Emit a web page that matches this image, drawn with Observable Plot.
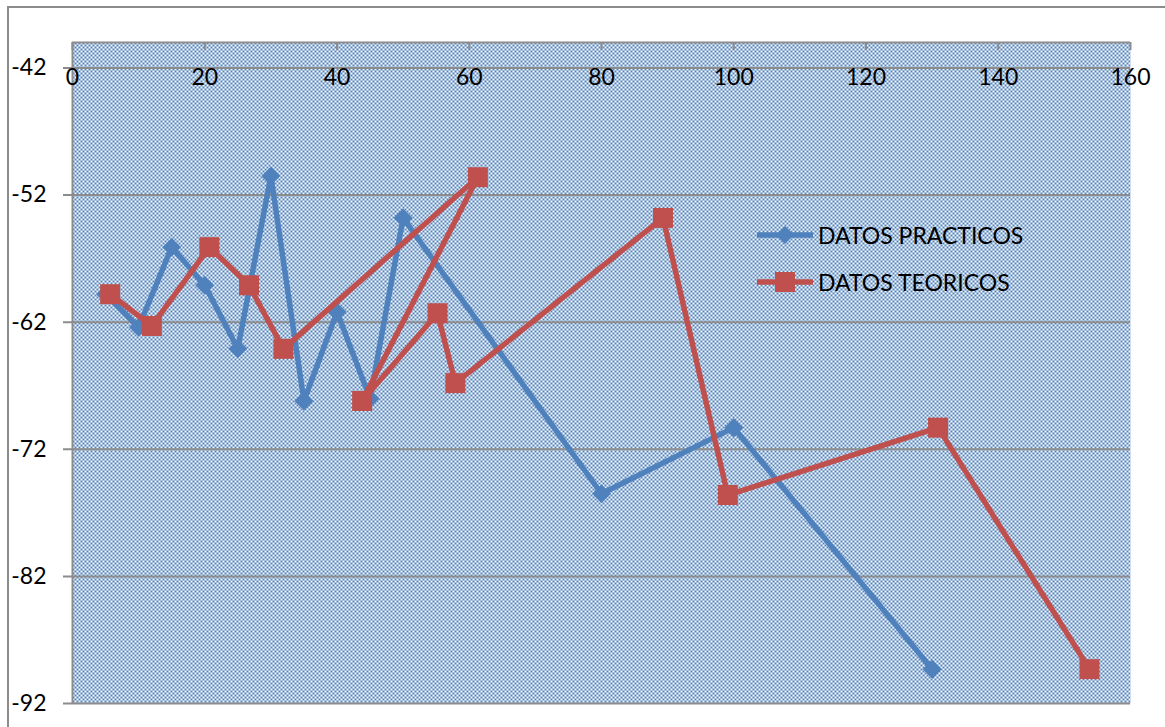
<!DOCTYPE html>
<html>
<head>
<meta charset="utf-8">
<script src="https://cdn.jsdelivr.net/npm/d3@7"></script>
<script src="https://cdn.jsdelivr.net/npm/@observablehq/plot@0.6"></script>
<style>
  html, body { margin: 0; padding: 0; background: #fff; overflow: hidden; }
  #wrap { position: relative; width: 1165px; height: 727px; }
  #border { position: absolute; left: 7px; top: 6px; width: 2000px; height: 2000px;
            border: 2px solid #8c8c8c; pointer-events: none; box-sizing: border-box; }
  #legend { position: absolute; left: 755px; top: 211px; font-family: Lato, "Open Sans", sans-serif;
            font-size: 23px; color: #000; }
  .row { display: flex; align-items: center; height: 47px; }
  .row svg { margin-right: 3px; }
</style>
</head>
<body>
<div id="wrap"><div id="border"></div><div id="legend"></div></div>
<script>
// ---- data ----
const seriesNames = ["DATOS PRACTICOS", "DATOS TEORICOS"];
const practicosX = [5, 10, 15, 20, 25, 30, 35, 40, 45, 50, 80, 100, 130];
const practicosY = [-59.8, -62.4, -56.1, -59.1, -64.1, -50.5, -68.2, -61.2, -68.0, -53.8, -75.5, -70.3, -89.3];
const teoricosX = [5.7, 12, 20.7, 26.7, 31.9, 61.3, 43.8, 55.2, 57.9, 89.3, 99.1, 130.9, 153.8];
const teoricosY = [-59.8, -62.3, -56.1, -59.1, -64.1, -50.6, -68.2, -61.3, -66.8, -53.8, -75.6, -70.3, -89.3];
const xTicks = [0, 20, 40, 60, 80, 100, 120, 140, 160];
const yTicks = [-42, -52, -62, -72, -82, -92];
const xDomain = [0, 160];
const yDomain = [-92, -40];
const xAxisCrossesAt = -42;

const practicos = practicosX.map((x, i) => ({x, y: practicosY[i]}));
const teoricos = teoricosX.map((x, i) => ({x, y: teoricosY[i]}));

const blue = "#4F81BD", red = "#C0504D", gray = "#8c8c8c";
const W = 1165, H = 727, mL = 72, mR = 35, mT = 42, mB = 24;
const plotH = H - mT - mB;

const diamond = {
  draw(ctx, size) {
    const r = Math.sqrt(size / 2);
    ctx.moveTo(0, -r); ctx.lineTo(r, 0); ctx.lineTo(0, r); ctx.lineTo(-r, 0); ctx.closePath();
  }
};

const svg = Plot.plot({
  width: W, height: H,
  marginLeft: mL, marginRight: mR, marginTop: mT, marginBottom: mB,
  x: {domain: xDomain, axis: null},
  y: {domain: yDomain, axis: null},
  style: {fontFamily: "Lato, 'Open Sans', sans-serif", fontSize: "23px", color: "#000", background: "#fff", overflow: "visible"},
  marks: [
    Plot.frame({fill: "url(#chk)", stroke: "none"}),
    Plot.ruleY(yTicks, {y: d => d, stroke: gray, strokeWidth: 2, insetLeft: -9}),
    Plot.ruleY([yDomain[1]], {y: d => d, stroke: gray, strokeWidth: 2}),
    Plot.ruleX([xDomain[0]], {x: d => d, stroke: gray, strokeWidth: 2}),
    Plot.ruleX(xTicks, {x: d => d, stroke: gray, strokeWidth: 2, insetBottom: plotH - 8}),
    Plot.axisY({ticks: yTicks, tickSize: 0, tickPadding: 26, label: null, fontSize: 23, tickFormat: d => String(d).replace("−", "-")}),
    Plot.text(xTicks, {x: d => d, y: () => xAxisCrossesAt, dy: 10, text: d => String(d), fontSize: 23, fill: "#000"}),
    Plot.line(practicos, {x: "x", y: "y", stroke: blue, strokeWidth: 5.5, strokeLinejoin: "round"}),
    Plot.dot(practicos, {x: "x", y: "y", symbol: diamond, r: 7.6, fill: blue, stroke: "none"}),
    Plot.line(teoricos, {x: "x", y: "y", stroke: red, strokeWidth: 5.5, strokeLinejoin: "round"}),
    Plot.dot(teoricos, {x: "x", y: "y", symbol: "square", r: 11.3, fill: red, stroke: "none"})
  ]
});

d3.select(svg).insert("defs", ":first-child").html(
  `<pattern id="chk" width="4" height="4" patternUnits="userSpaceOnUse">
     <rect width="4" height="4" fill="#fff"/>
     <rect width="2" height="2" fill="${blue}"/>
     <rect x="2" y="2" width="2" height="2" fill="${blue}"/>
   </pattern>`);
svg.style.position = "absolute";
svg.style.left = "0";
svg.style.top = "0";
document.getElementById("wrap").insertBefore(svg, document.getElementById("border"));

// legend
const legend = d3.select("#legend");
const sw = [{c: blue, s: "diamond"}, {c: red, s: "square"}];
seriesNames.forEach((name, i) => {
  const row = legend.append("div").attr("class", "row");
  const s = row.append("svg").attr("width", 60).attr("height", 24);
  s.append("line").attr("x1", 2).attr("x2", 58).attr("y1", 12).attr("y2", 12)
    .attr("stroke", sw[i].c).attr("stroke-width", 5.5);
  if (sw[i].s === "diamond") {
    s.append("path").attr("d", "M30,3L39,12L30,21L21,12Z").attr("fill", sw[i].c);
  } else {
    s.append("rect").attr("x", 20).attr("y", 2).attr("width", 20).attr("height", 20).attr("fill", sw[i].c);
  }
  row.append("span").text(name);
});
</script>
</body>
</html>
